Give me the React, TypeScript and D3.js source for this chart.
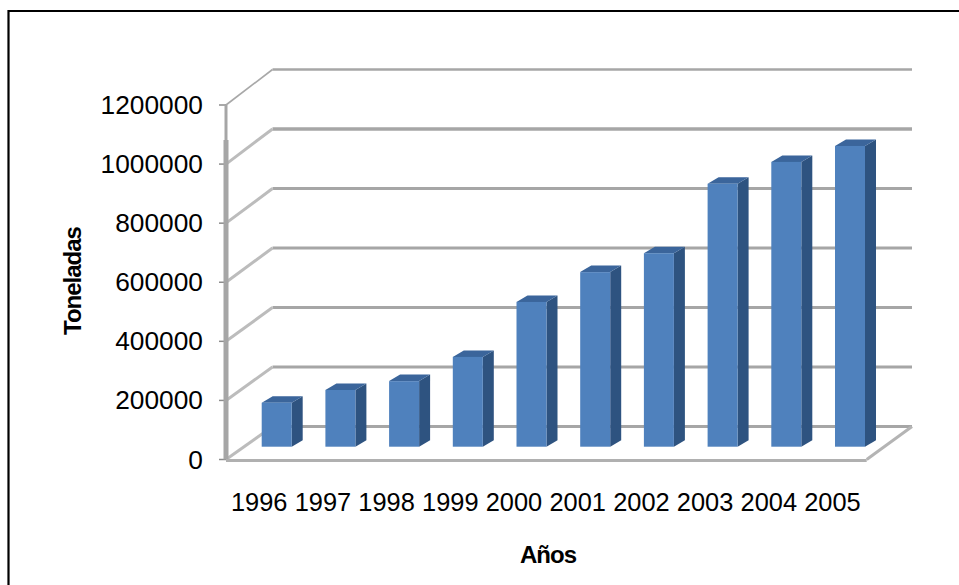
import React from "react";
import * as d3 from "d3";

const years = ["1996","1997","1998","1999","2000","2001","2002","2003","2004","2005"];
const tons = [149000,192000,222000,304000,490000,591000,655000,890000,964000,1018000];
const ticks = [0,200000,400000,600000,800000,1000000,1200000];

const W = 959, H = 585;
const font = "'Liberation Sans', Arial, sans-serif";
const grid = "#a6a6a6";

export default function App() {
  const yFront = d3.scaleLinear().domain([0,1200000]).range([459.5,105]);
  const yBack = d3.scaleLinear().domain([0,1200000]).range([426.5,69.5]);
  const yBar = d3.scaleLinear().domain([0,1200000]).range([446.7,92.2]);
  const x = d3.scaleBand().domain(years).range([261.7,865]).paddingInner(0.529).paddingOuter(0);
  const bw = x.bandwidth();
  const dx = 11, dy = 6.5;
  const x0 = 226, xB = 272.5, xR = 912, xF = 866.7;
  return (
    <svg width={W} height={H} viewBox={`0 0 ${W} ${H}`} style={{position:"absolute",left:0,top:0,background:"#fff"}}>
      <defs>
        <filter id="soft" x="-5%" y="-5%" width="110%" height="110%"><feGaussianBlur stdDeviation="0.6"/></filter>
      </defs>
      <path d={`M8.5,${H}V11H${W}`} fill="none" stroke="#000" strokeWidth={2.2}/>
      <g filter="url(#soft)">
        {ticks.map(t => (
          <g key={t}>
            <line x1={xB} x2={xR} y1={yBack(t)} y2={yBack(t)} stroke={grid} strokeWidth={t===1000000?3.4:t===1200000?2.6:2.8}/>
            <line x1={x0} x2={xB} y1={yFront(t)} y2={yBack(t)} stroke={t===1200000?"#a8a8a8":"#bcbcbc"} strokeWidth={t===1200000?1.6:3}/>
            <line x1={219} x2={x0} y1={yFront(t)} y2={yFront(t)} stroke="#8c8c8c" strokeWidth={1.5}/>
          </g>
        ))}
        <line x1={x0} x2={x0} y1={yFront(1200000)} y2={yFront(1000000)+1} stroke={grid} strokeWidth={3}/>
        <line x1={x0} x2={x0} y1={yFront(1000000)-24} y2={yFront(0)} stroke={grid} strokeWidth={5}/>
        <line x1={x0} x2={xF} y1={yFront(0)+1} y2={yFront(0)+1} stroke="#b0b0b0" strokeWidth={3}/>
        <line x1={xF} x2={xR} y1={yFront(0)} y2={yBack(0)} stroke="#b4b4b4" strokeWidth={3}/>
        {years.map((yr,i) => {
          const l = x(yr)!, r = l + bw, t = yBar(tons[i]), b = yBar(0);
          return (
            <g key={yr}>
              <path d={`M${r},${t}L${r+dx},${t-dy}V${b-dy}L${r},${b}Z`} fill="#2f5380"/>
              <path d={`M${l},${t}L${l+dx},${t-dy}H${r+dx}L${r},${t}Z`} fill="#3a659b"/>
              <rect x={l} y={t} width={bw} height={b-t} fill="#4f81bd"/>
            </g>
          );
        })}
      </g>
      <g fontFamily={font} fontSize={26.3} fill="#000">
        {ticks.map(t => (
          <text key={t} x={203} y={yFront(t)+9} textAnchor="end">{t}</text>
        ))}
      </g>
      <g fontFamily={font} fontSize={25.4} fill="#000">
        {years.map(yr => (
          <text key={yr} x={x(yr)! + bw/2 - 17.5} y={510.7} textAnchor="middle">{yr}</text>
        ))}
      </g>
      <g fontFamily={font} fontSize={24} fontWeight="bold" fill="#000" letterSpacing={-1}>
        <text x={548} y={563} textAnchor="middle">Años</text>
        <text transform="translate(81,281) rotate(-90)" textAnchor="middle">Toneladas</text>
      </g>
    </svg>
  );
}
